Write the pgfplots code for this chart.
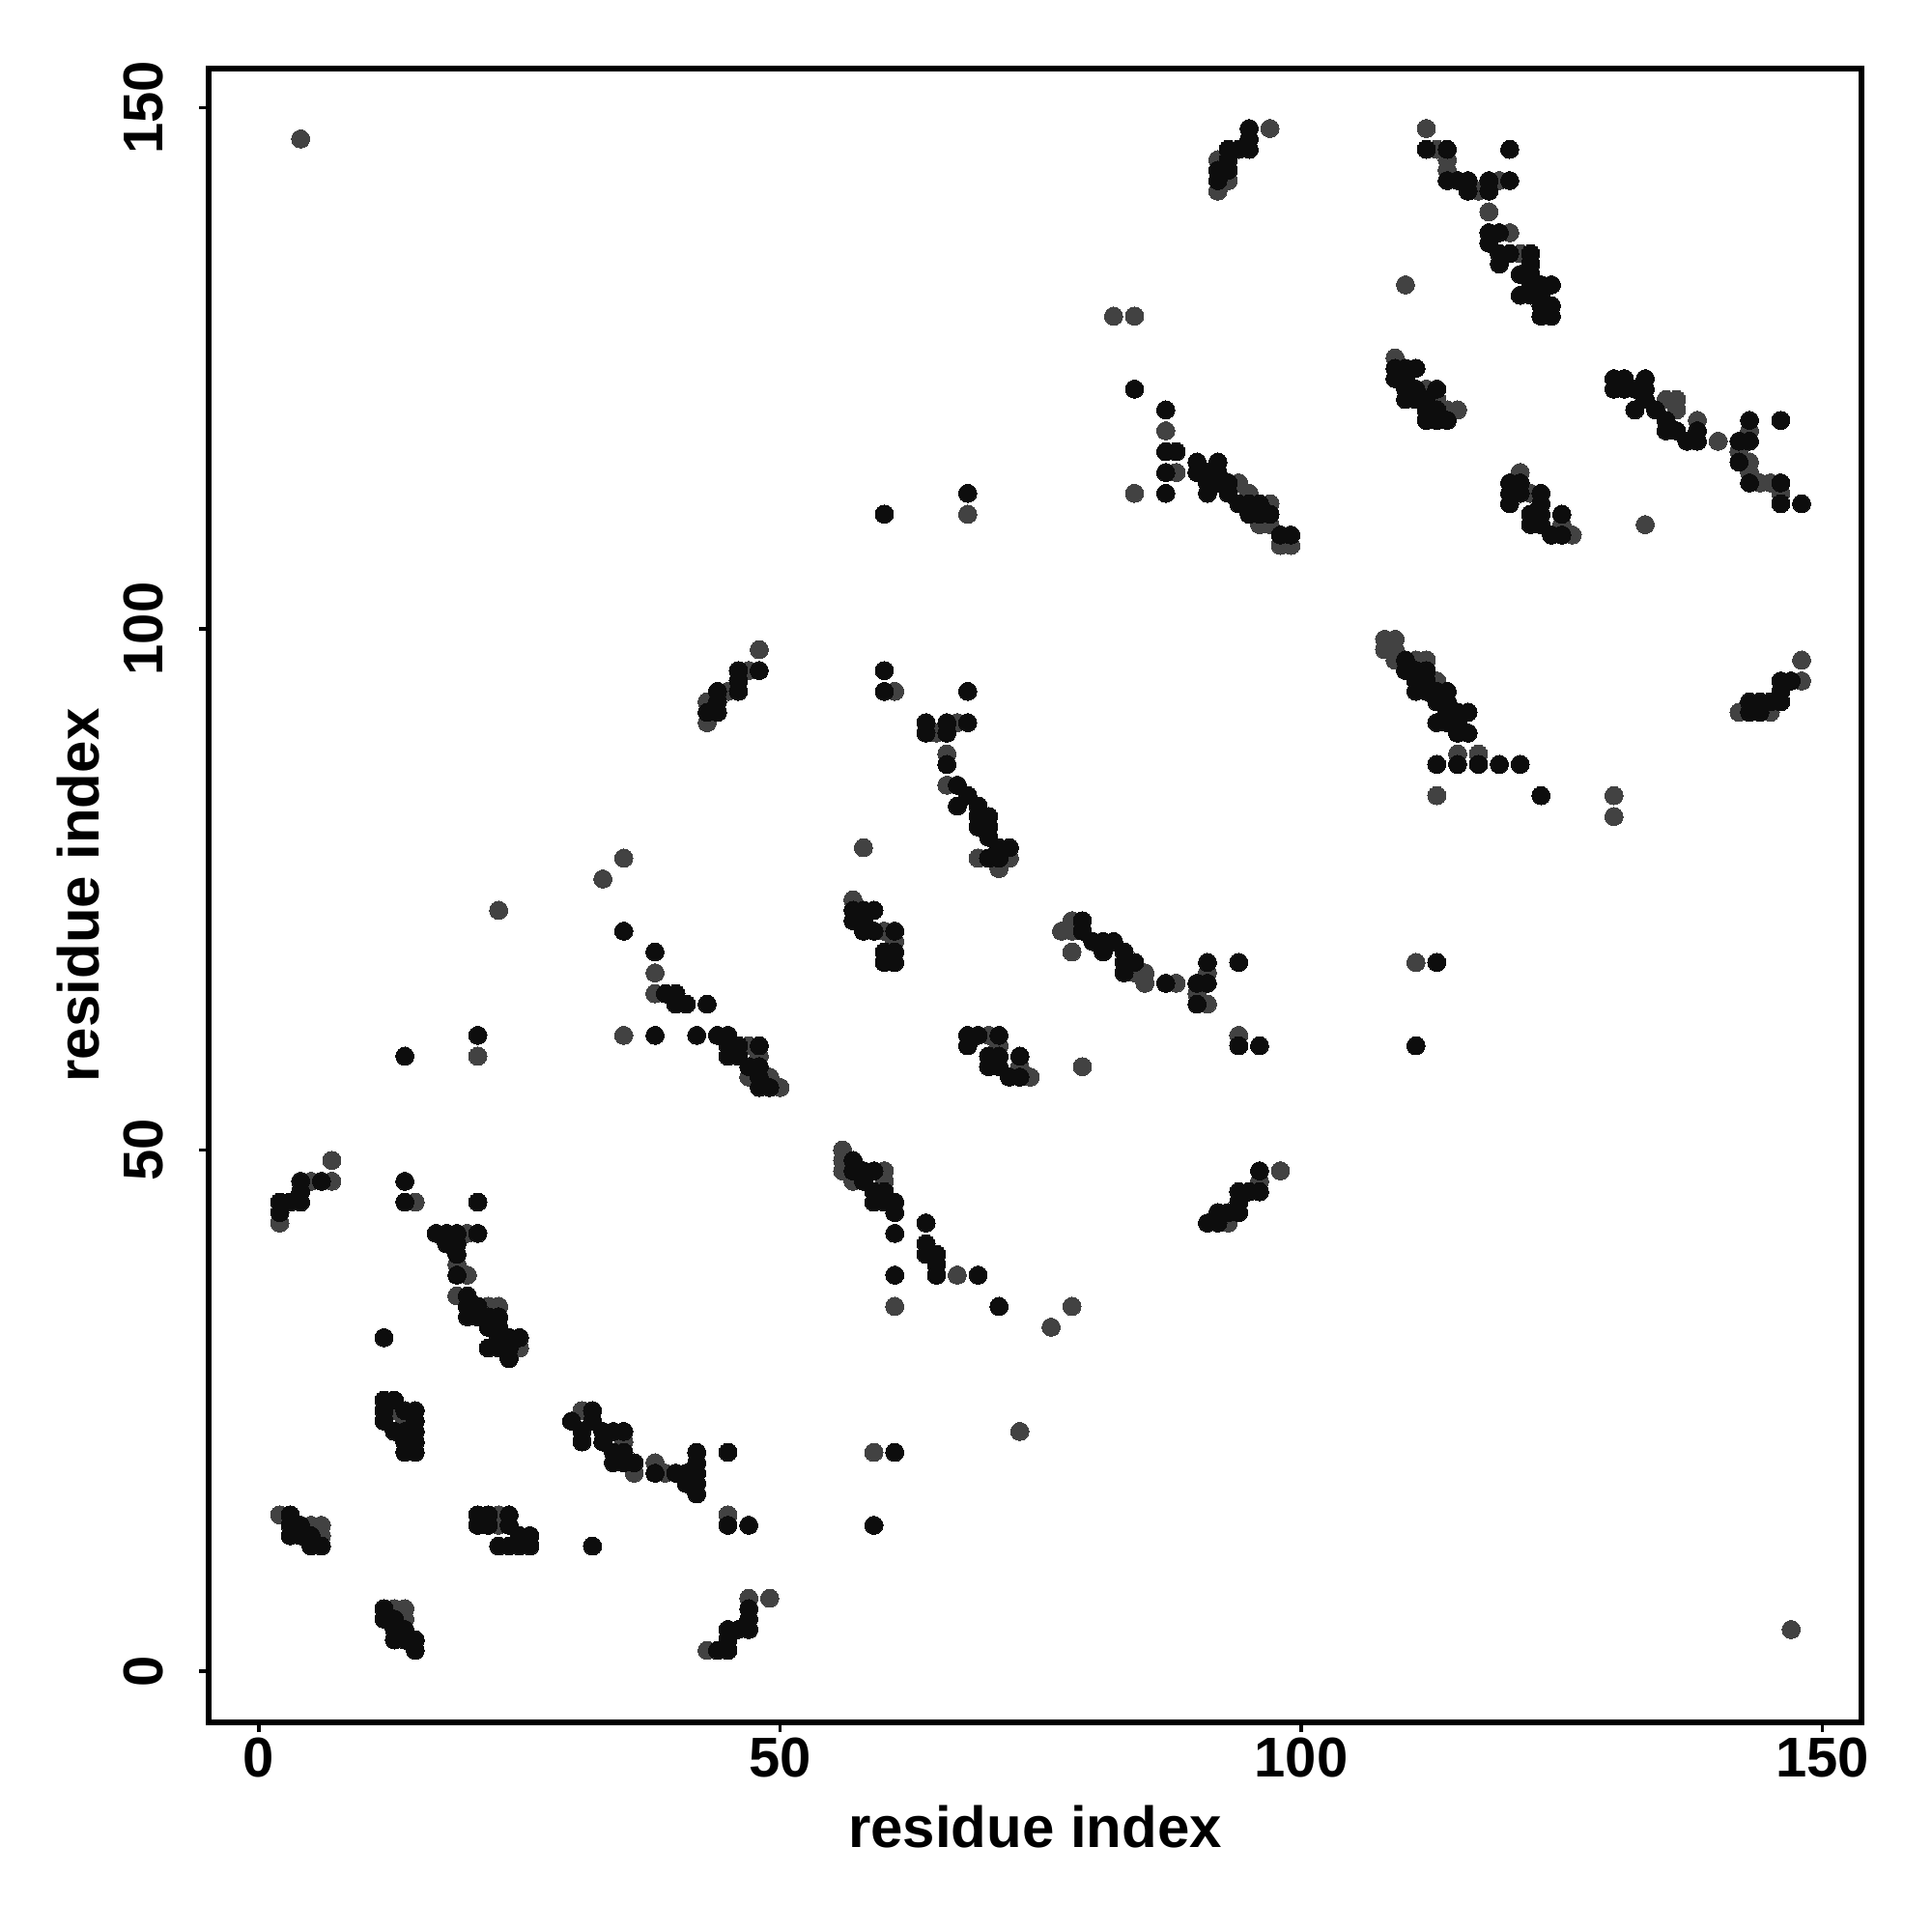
\documentclass[border=0pt]{standalone}
\usepackage{fontspec}
\setmainfont{Liberation Sans}
\usepackage{pgfplots}
\pgfplotsset{compat=1.18}
\definecolor{ptblack}{HTML}{0D0D0D}
\definecolor{ptgray}{HTML}{424242}
\begin{document}
\begin{tikzpicture}
\begin{axis}[
  scale only axis, width=427.75pt, height=428pt,
  xmin=-4.82, xmax=153.75, ymin=-4.91, ymax=153.75,
  axis line style={line width=1.5pt},
  tick align=outside, xtick pos=left, ytick pos=left,
  major tick length=2.5pt,
  every tick/.style={black, line width=0.9pt},
  xtick={0,50,100,150}, ytick={0,50,100,150},
  /pgf/number format/assume math mode=true,
  tick label style={font=\fontsize{14.5}{17}\selectfont\bfseries},
  yticklabel style={rotate=90, anchor=south, inner sep=0pt},
  xticklabel style={anchor=north, inner sep=0pt},
  xticklabel shift=1.25pt, yticklabel shift=9pt,
  xlabel={residue index}, ylabel={residue index},
  label style={font=\fontsize{15}{18}\selectfont\bfseries},
  xlabel style={at={(axis description cs:0.5,-0.0759)}, anchor=base},
  ylabel style={at={(axis description cs:-0.0666,0.5)}, anchor=base},
]
\coordinate (ll) at (axis cs:-24.84,-25.02);
\coordinate (ur) at (axis cs:160.5,160.33);
% gray points
\addplot[only marks, mark=*, mark size=2.35pt, color=ptgray, mark options={draw=ptgray, fill=ptgray, line width=0pt}] coordinates {
(2,43)(5,47)(7,47)(7,49)(21,59)(15,45)
(20,42)(19,39)(20,38)(19,36)(22,35)(23,35)(25,31)
(13,25)(14,24)
(2,15)(5,14)(6,14)(6,13)
(23,15)(23,14)
(13,6)(14,6)(14,5)
(31,25)(35,22)(36,19)(38,20)(39,19)(45,15)(47,7)(49,7)(43,2)
(48,98)(47,96)(45,94)(43,93)(43,91)(35,78)(33,76)(38,67)(38,65)(35,61)(47,60)(48,59)(47,57)(49,57)(50,56)
(56,50)(56,49)(56,48)(57,47)(60,47)(60,48)(67,38)(61,35)(76,33)(73,23)(59,21)(78,35)
(61,94)(65,90)(67,91)(66,88)(66,85)(69,78)(72,78)(71,77)(58,79)
(57,74)(60,71)(61,70)
(70,61)(71,60)(73,58)(74,57)
(77,71)(78,72)(78,71)(78,69)(84,67)(85,67)(85,66)(88,66)(91,67)(90,65)(91,64)(94,61)(79,58)(98,48)(96,47)(93,43)
(97,148)(92,145)(93,143)(92,142)
(82,130)(84,130)(87,119)(88,115)(84,113)
(94,114)(95,113)(96,110)(97,110)(97,112)(98,108)(99,108)
(112,148)(113,146)(114,145)(114,144)(117,142)(119,143)(118,140)(120,138)(121,136)(110,133)
(109,126)(112,123)(113,122)(114,121)(115,121)
(121,115)(122,113)(125,110)(126,109)
(108,99)(109,99)(108,98)(109,98)(109,97)(111,97)(112,97)(113,95)(115,88)(117,88)(113,84)
(135,122)(136,122)(136,121)(138,120)(140,118)(143,119)(142,117)(143,116)(143,115)(144,114)(145,114)(146,113)(133,110)
(148,97)(148,95)(142,92)(145,92)
(4,147)(147,4)(23,73)(130,84)(130,82)(111,68)(68,111)
};
% black points
\addplot[only marks, mark=*, mark size=2.35pt, color=ptblack, mark options={draw=ptblack, fill=ptblack, line width=0pt}] coordinates {
(2,44)(2,45)(3,45)(4,45)(4,46)(4,47)(6,47)
(14,59)(21,61)(14,47)(14,45)(21,45)
(17,42)(18,42)(19,42)(21,42)(18,41)(19,41)(19,40)(19,38)(20,36)(20,35)(21,35)(20,34)(21,34)(22,34)(23,34)(22,33)(23,33)(23,32)(24,32)(25,32)(22,31)(23,31)(24,31)(24,30)
(12,32)
(12,26)(13,26)(12,25)(14,25)(15,25)(12,24)(15,24)(13,23)(14,23)(15,23)(14,22)(15,22)(14,21)(15,21)
(3,15)(3,14)(4,14)(3,13)(4,13)(5,13)(5,12)(6,12)
(21,15)(22,15)(24,15)(21,14)(22,14)(24,14)(25,13)(26,13)(23,12)(24,12)(25,12)(26,12)
(12,6)(12,5)(13,5)(13,4)(14,4)(13,3)(14,3)(15,3)(15,2)
(32,25)(30,24)(32,24)(31,23)(33,23)(34,23)(35,23)(31,22)(33,22)(34,21)(35,21)(34,20)(35,20)(36,20)(38,19)(40,19)(41,19)(41,18)
(42,21)(42,20)(42,19)(42,18)(42,17)(45,21)(45,14)(47,14)(32,12)
(47,6)(47,5)(45,4)(46,4)(47,4)(45,3)(44,2)(45,2)
(46,96)(48,96)(46,95)(44,94)(46,94)(44,93)(43,92)(44,92)
(35,71)(38,69)(39,65)(40,65)(40,64)(41,64)(43,64)(38,61)(42,61)(44,61)(45,61)(45,60)(46,60)(48,60)(45,59)(46,59)(47,58)(48,58)(48,57)(48,56)(49,56)
(57,49)(57,48)(58,48)(59,48)(58,47)(59,46)(60,46)(59,45)(60,45)(61,45)(61,44)(61,42)(64,43)(64,41)(64,40)(65,40)(65,39)(65,38)(69,38)(61,38)(71,35)(61,21)(59,14)
(60,96)(60,94)(68,94)(64,91)(66,91)(68,91)(64,90)(66,90)(66,87)(67,85)(68,84)(67,83)(69,83)(69,82)(70,82)(69,81)(70,81)(70,80)(71,79)(72,79)(70,78)(71,78)
(57,73)(57,72)(58,73)(59,73)(58,72)(58,71)(59,71)(61,71)(60,69)(61,69)(60,68)(61,68)
(68,61)(69,61)(71,61)(68,60)(70,59)(71,59)(73,59)(70,58)(71,58)(72,57)(73,57)
(79,72)(79,71)(80,70)(81,70)(82,70)(81,69)(83,69)(83,68)(84,68)(83,67)(87,66)(91,68)(91,66)(90,66)(90,64)(94,68)(94,60)(96,60)
(96,48)(94,46)(95,46)(96,46)(94,45)(92,44)(93,44)(94,44)(91,43)(92,43)
(95,148)(95,147)(95,146)(94,146)(93,146)(93,145)(93,144)(92,144)(92,143)
(84,123)(87,121)(87,117)(88,117)(87,115)(87,113)
(90,116)(92,116)(90,115)(91,115)(92,115)(91,114)(92,114)(93,114)(91,113)(93,113)(94,112)(95,112)(96,112)(95,111)(96,111)(97,111)(98,109)(99,109)
(112,146)(114,146)(120,146)(114,143)(115,143)(116,143)(116,142)(118,143)(118,142)(120,143)(118,138)(118,137)(119,138)(119,136)(119,135)(120,136)(122,136)(122,135)
(121,134)(122,134)(122,133)(123,133)(124,133)(121,132)(122,132)(123,132)(123,131)(124,131)(123,130)(124,130)
(109,125)(110,125)(111,125)(109,124)(110,124)(110,123)(111,123)(110,122)(111,122)(113,123)(112,122)(112,121)(113,121)(112,120)(113,120)(114,120)
(120,114)(121,114)(120,113)(121,113)(123,113)(120,112)(123,112)(122,111)(123,111)(125,111)(122,110)(123,110)(124,109)(125,109)
(110,97)(110,96)(111,96)(112,96)(111,95)(112,95)(111,94)(112,94)(113,94)(114,94)(113,93)(114,93)(114,92)(115,92)(116,92)(113,91)(114,91)(115,91)(115,90)(116,90)
(115,87)(113,87)(117,87)(119,87)(121,87)(123,84)
(130,124)(131,124)(133,124)(130,123)(131,123)(132,123)(133,123)(133,122)(132,121)(134,121)(135,120)(135,119)(136,119)(137,118)(138,118)(138,119)
(143,120)(143,118)(142,118)(142,116)(143,114)(146,114)(146,112)(146,120)(148,112)
(146,95)(147,95)(146,94)(143,93)(144,93)(145,93)(146,93)(143,92)(144,92)
(60,111)(68,113)(111,60)(113,68)
};
\end{axis}
\path (ll) rectangle (ur);
\end{tikzpicture}
\end{document}
